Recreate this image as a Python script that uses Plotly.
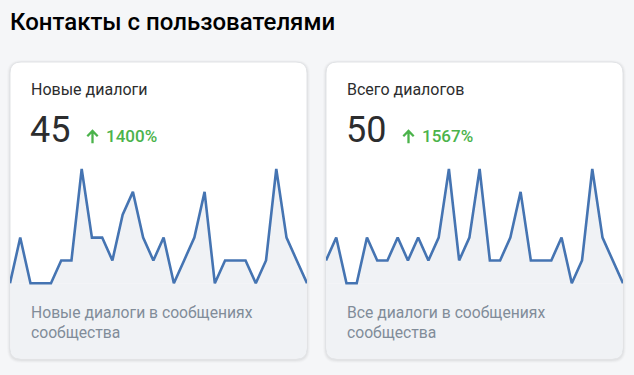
import plotly.graph_objects as go

# Daily counts over the last 30 days
days = list(range(1, 31))
new_dialogs = [0, 2, 0, 0, 0, 1, 1, 5, 2, 2, 1, 3, 4, 2, 1, 2, 0, 1, 2, 4,
               0, 1, 1, 1, 0, 1, 5, 2, 1, 0]
all_dialogs = [1, 2, 0, 0, 2, 1, 1, 2, 1, 2, 1, 2, 5, 1, 2, 5, 1, 1, 2, 4,
               1, 1, 1, 2, 0, 1, 5, 2, 1, 0]

page_title = "Контакты с пользователями"
card_titles = ["Новые диалоги", "Всего диалогов"]
card_totals = [sum(new_dialogs), sum(all_dialogs)]
card_growth = ["1400%", "1567%"]
card_notes = ["Новые диалоги в сообщениях<br>сообщества",
              "Все диалоги в сообщениях<br>сообщества"]
series = [new_dialogs, all_dialogs]

W, H = 634, 375
BG = "#f5f6f8"
CARD_BORDER = "#e1e3e6"
AREA = "#f0f2f5"
LINE = "#4574b2"
DARK = "#2c2d2e"
GREY = "#818c99"
GREEN = "#4bb34b"
FONT = "Roboto"

CARD_X = [(10, 307), (326, 623)]
CARD_TOP, CARD_BOT = 62, 359
RADIUS = 11

# vertical scale of the sparklines (pixels)
Y_MAX = 5
Y_PAD = 0.15
TOP_PX, ZERO_PX = 169.0, 283.3
UNIT = (ZERO_PX - TOP_PX) / Y_MAX


def px(x):
    return x / W


def py(y):
    return 1 - y / H


def rounded_path(x0, y0, x1, y1, r, top=True, bottom=True):
    rt = r if top else 0
    rb = r if bottom else 0
    pts = []
    pts.append(f"M {px(x0 + rt)} {py(y0)}")
    pts.append(f"L {px(x1 - rt)} {py(y0)}")
    if rt:
        pts.append(f"Q {px(x1)} {py(y0)} {px(x1)} {py(y0 + rt)}")
    pts.append(f"L {px(x1)} {py(y1 - rb)}")
    if rb:
        pts.append(f"Q {px(x1)} {py(y1)} {px(x1 - rb)} {py(y1)}")
    pts.append(f"L {px(x0 + rb)} {py(y1)}")
    if rb:
        pts.append(f"Q {px(x0)} {py(y1)} {px(x0)} {py(y1 - rb)}")
    pts.append(f"L {px(x0)} {py(y0 + rt)}")
    if rt:
        pts.append(f"Q {px(x0)} {py(y0)} {px(x0 + rt)} {py(y0)}")
    pts.append("Z")
    return " ".join(pts)


def up_arrow(cx, top, bottom, half):
    # stem plus chevron head of the growth icon
    return (f"M {px(cx)} {py(bottom)} L {px(cx)} {py(top + 1)} "
            f"M {px(cx - half)} {py(top + half)} L {px(cx)} {py(top)} L {px(cx + half)} {py(top + half)}")


def label(text, x, y, size, color, weight=400, family=FONT):
    return dict(text=text, x=px(x), y=py(y), xref="paper", yref="paper",
                xanchor="left", yanchor="middle", align="left", showarrow=False,
                borderpad=0, font=dict(family=family, size=size, color=color, weight=weight))


fig = go.Figure()
shapes = []
annotations = []

for i, (x0, x1) in enumerate(CARD_X):
    # soft shadow
    for k, a in [(3, 0.015), (2, 0.025), (1, 0.035)]:
        shapes.append(dict(type="path", xref="paper", yref="paper", layer="below",
                           path=rounded_path(x0 - k, CARD_TOP - k + 1, x1 + k, CARD_BOT + k + 1, RADIUS + k),
                           fillcolor=f"rgba(0,0,0,{a})", line=dict(width=0)))
    # card body
    shapes.append(dict(type="path", xref="paper", yref="paper", layer="below",
                       path=rounded_path(x0, CARD_TOP, x1, CARD_BOT, RADIUS),
                       fillcolor="#ffffff", line=dict(color=CARD_BORDER, width=1)))
    # shaded strip under the sparkline baseline
    shapes.append(dict(type="path", xref="paper", yref="paper", layer="below",
                       path=rounded_path(x0 + 0.5, ZERO_PX, x1 - 0.5, CARD_BOT - 0.5, RADIUS - 1, top=False),
                       fillcolor=AREA, line=dict(width=0)))

    xa = "x" if i == 0 else f"x{i + 1}"
    ya = "y" if i == 0 else f"y{i + 1}"
    fig.add_trace(go.Scatter(
        x=days, y=series[i], mode="lines", xaxis=xa, yaxis=ya,
        line=dict(color=LINE, width=2.6, shape="linear"),
        fill="tozeroy", fillcolor=AREA, hoverinfo="skip", showlegend=False))

    ax_key = "xaxis" if i == 0 else f"xaxis{i + 1}"
    ay_key = "yaxis" if i == 0 else f"yaxis{i + 1}"
    fig.layout[ax_key] = dict(domain=[px(x0), px(x1)], range=[days[0], days[-1]],
                              visible=False, fixedrange=True, anchor=ya)
    top = TOP_PX - Y_PAD * UNIT
    bot = ZERO_PX + Y_PAD * UNIT
    fig.layout[ay_key] = dict(domain=[py(bot), py(top)], range=[-Y_PAD, Y_MAX + Y_PAD],
                              visible=False, fixedrange=True, anchor=xa)

    tx = x0 + 20
    annotations.append(label(card_titles[i], tx, 89, 16, DARK))
    annotations.append(label(str(card_totals[i]), tx - 1, 130, 36, DARK))
    shapes.append(dict(type="path", xref="paper", yref="paper", layer="above",
                       path=up_arrow(x0 + 82.5, 131, 143.3, 5.2),
                       line=dict(color=GREEN, width=2.3)))
    annotations.append(label(card_growth[i], tx + 75, 136, 17, GREEN, 500))
    annotations.append(label(card_notes[i], tx, 322, 15.7, GREY))

annotations.append(label(page_title, 9, 22, 24, "#000000", 500))

fig.update_layout(width=W, height=H, margin=dict(l=0, r=0, t=0, b=0),
                  paper_bgcolor=BG, plot_bgcolor="rgba(0,0,0,0)",
                  shapes=shapes, annotations=annotations)

fig.write_html("out.html", config=dict(displayModeBar=False))
